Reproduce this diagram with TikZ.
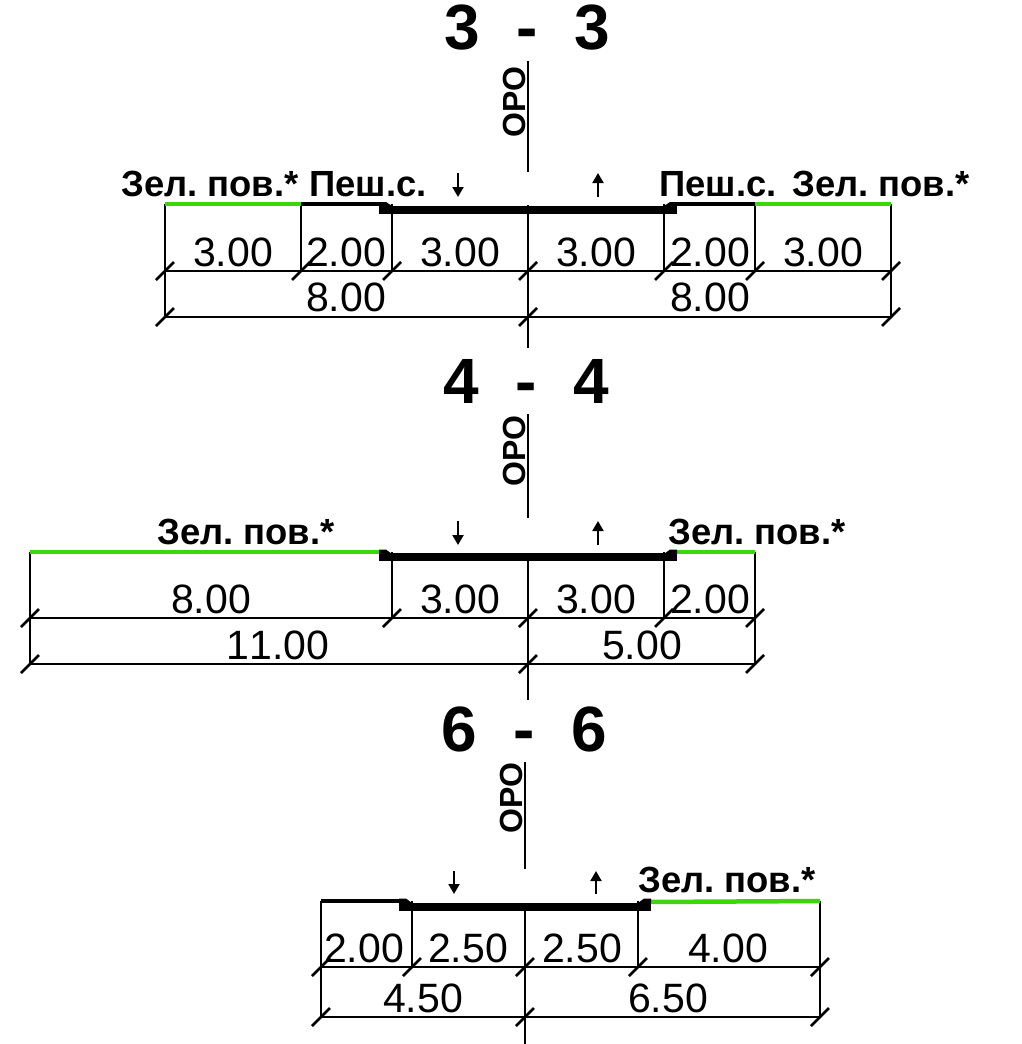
\documentclass[tikz,border=0pt]{standalone}
\usepackage{fontspec}
\setmainfont[Kerning=Off]{Liberation Sans}
\usetikzlibrary{arrows.meta}
\definecolor{zel}{RGB}{60,215,10}
\tikzset{
 x=1pt,y=-1pt,
 thin line/.style={draw=black,line width=1.7pt},
 dimline/.style={draw=black,line width=1.6pt},
 tick/.style={draw=black,line width=2.6pt},
 walk/.style={draw=black,line width=4.5pt},
 road/.style={draw=black,line width=8pt},
 bump/.style={fill=black,draw=none},
 green line/.style={draw=zel,line width=4.5pt},
 dimtext/.style={inner sep=0pt,font=\fontsize{41}{41}\selectfont},
 lab/.style={inner sep=0pt,font=\fontsize{36.4}{36.4}\selectfont\bfseries},
 ttl/.style={inner sep=0pt,font=\fontsize{64}{64}\selectfont\bfseries},
 oro/.style={inner sep=0pt,rotate=90,font=\fontsize{32}{32}\selectfont\bfseries},
 dirarrow/.style={draw=black,line width=2pt,-{Stealth[length=10pt,width=11pt,inset=0pt]}},
}
% tick mark at a named coordinate
\newcommand{\tk}[1]{\draw[tick] ([shift={(-9,9)}]#1) -- ([shift={(9,-9)}]#1);}
\frenchspacing
\begin{document}
\begin{tikzpicture}
\useasboundingbox (0,0) rectangle (1021,1044);
% ---------- 3-3
\node[ttl] (t3) at (527,28) {3\hspace{0.57em}-\hspace{0.57em}3};
\node[oro] (o3) at (514,102) {ОРО};
\foreach \n/\x in {a/165,b/301,c/392,d/528,e/664,f/755,g/891}{
 \coordinate (\n3t) at (\x,204);
 \coordinate (\n3m) at (\x,271);
 \coordinate (\n3l) at (\x,317);
}
\coordinate (c3top) at (528,61);\coordinate (c3mid) at (528,172);\coordinate (c3road) at (528,205);\coordinate (c3bot) at (528,348);
\draw[thin line] (c3top)--(c3mid);
\draw[thin line] (c3road)--(c3bot);
\draw[thin line] (a3t)--(a3l);\draw[thin line] (g3t)--(g3l);
\draw[thin line] (b3t)--(b3m);\draw[thin line] (c3t)--(c3m);\draw[thin line] (e3t)--(e3m);\draw[thin line] (f3t)--(f3m);
\draw[dimline] (a3m)--(g3m);
\draw[dimline] (a3l)--(g3l);
\foreach \n in {a3m,b3m,c3m,d3m,e3m,f3m,g3m,a3l,d3l,g3l}{\tk{\n}}
\draw[green line] (a3t)--(b3t);
\draw[green line] (f3t)--(g3t);
\coordinate (w3a) at (384,204);\coordinate (w3b) at (672,204);
\draw[walk] (b3t)--(w3a);\draw[walk] (w3b)--(f3t);
\coordinate (r3a) at (379,209.5);\coordinate (r3b) at (677,209.5);
\draw[road] (r3a)--(r3b);
\fill[bump] (379,202)--(386,202)--(392,206)--(379,206)--cycle;
\fill[bump] (677,202)--(670,202)--(664,206)--(677,206)--cycle;
\node[lab] (l31) at (210,184) {Зел. пов.*};
\node[lab] (l32) at (368,184) {Пеш.с.};
\node[lab] (l33) at (718,184) {Пеш.с.};
\node[lab] (l34) at (881,184) {Зел. пов.*};
\coordinate (ad3a) at (458,173);\coordinate (ad3b) at (458,197);\coordinate (au3a) at (598,197);\coordinate (au3b) at (598,173);
\draw[dirarrow] (ad3a)--(ad3b);\draw[dirarrow] (au3a)--(au3b);
\foreach \x/\txt/\y in {233/3.00/252,346/2.00/252,460/3.00/252,596/3.00/252,710/2.00/252,823/3.00/252,346/8.00/297,710/8.00/297}{
 \node[dimtext] at (\x,\y) {\txt};}
% ---------- 4-4
\node[ttl] (t4) at (526,381) {4\hspace{0.57em}-\hspace{0.57em}4};
\node[oro] (o4) at (514,451) {ОРО};
\foreach \n/\x in {a/30,c/392,d/528,e/664,f/755}{
 \coordinate (\n4t) at (\x,552);
 \coordinate (\n4m) at (\x,618);
 \coordinate (\n4l) at (\x,664);
}
\coordinate (c4top) at (528,414);\coordinate (c4mid) at (528,518);\coordinate (c4road) at (528,553);\coordinate (c4bot) at (528,700);
\draw[thin line] (c4top)--(c4mid);
\draw[thin line] (c4road)--(c4bot);
\draw[thin line] (a4t)--(a4l);\draw[thin line] (f4t)--(f4l);
\draw[thin line] (c4t)--(c4m);\draw[thin line] (e4t)--(e4m);
\draw[dimline] (a4m)--(f4m);
\draw[dimline] (a4l)--(f4l);
\foreach \n in {a4m,c4m,d4m,e4m,f4m,a4l,d4l,f4l}{\tk{\n}}
\coordinate (g4a) at (381,552);\coordinate (g4b) at (675,552);
\draw[green line] (a4t)--(g4a);
\draw[green line] (g4b)--(f4t);
\coordinate (r4a) at (379,557);\coordinate (r4b) at (677,557);
\draw[road] (r4a)--(r4b);
\fill[bump] (379,549.5)--(386,549.5)--(392,554)--(379,554)--cycle;
\fill[bump] (677,549.5)--(670,549.5)--(664,554)--(677,554)--cycle;
\node[lab] (l41) at (246,532) {Зел. пов.*};
\node[lab] (l42) at (757,532) {Зел. пов.*};
\coordinate (ad4a) at (458,521);\coordinate (ad4b) at (458,545);\coordinate (au4a) at (598,545);\coordinate (au4b) at (598,521);
\draw[dirarrow] (ad4a)--(ad4b);\draw[dirarrow] (au4a)--(au4b);
\foreach \x/\txt/\y in {211/8.00/599,460/3.00/599,596/3.00/599,710/2.00/599,278/11.00/645,642/5.00/645}{
 \node[dimtext] at (\x,\y) {\txt};}
% ---------- 6-6
\node[ttl] (t6) at (524,729) {6\hspace{0.57em}-\hspace{0.57em}6};
\node[oro] (o6) at (511,798) {ОРО};
\foreach \n/\x in {a/321,c/412,d/525,e/638,f/820}{
 \coordinate (\n6t) at (\x,901);
 \coordinate (\n6m) at (\x,967);
 \coordinate (\n6l) at (\x,1017);
}
\coordinate (c6top) at (525,762);\coordinate (c6mid) at (525,869);\coordinate (c6road) at (525,905);\coordinate (c6bot) at (525,1044);
\draw[thin line] (c6top)--(c6mid);
\draw[thin line] (c6road)--(c6bot);
\draw[thin line] (a6t)--(a6l);\draw[thin line] (f6t)--(f6l);
\draw[thin line] (c6t)--(c6m);\draw[thin line] (e6t)--(e6m);
\draw[dimline] (a6m)--(f6m);
\draw[dimline] (a6l)--(f6l);
\foreach \n in {a6m,c6m,d6m,e6m,f6m,a6l,d6l,f6l}{\tk{\n}}
\coordinate (w6a) at (404,901);\coordinate (g6b) at (649,902);
\draw[walk] (a6t)--(w6a);
\draw[green line] (g6b)--(f6t);
\coordinate (r6a) at (399,906.5);\coordinate (r6b) at (651,906.5);
\draw[road] (r6a)--(r6b);
\fill[bump] (399,898.5)--(406,898.5)--(412,903)--(399,903)--cycle;
\fill[bump] (651,898.5)--(644,898.5)--(638,903)--(651,903)--cycle;
\node[lab] (l61) at (727,880) {Зел. пов.*};
\coordinate (ad6a) at (454,871);\coordinate (ad6b) at (454,894);\coordinate (au6a) at (596,894);\coordinate (au6b) at (596,871);
\draw[dirarrow] (ad6a)--(ad6b);\draw[dirarrow] (au6a)--(au6b);
\foreach \x/\txt/\y in {364/2.00/948,468/2.50/948,582/2.50/948,728/4.00/948,423/4.50/998,668/6.50/998}{
 \node[dimtext] at (\x,\y) {\txt};}
\end{tikzpicture}
\end{document}
